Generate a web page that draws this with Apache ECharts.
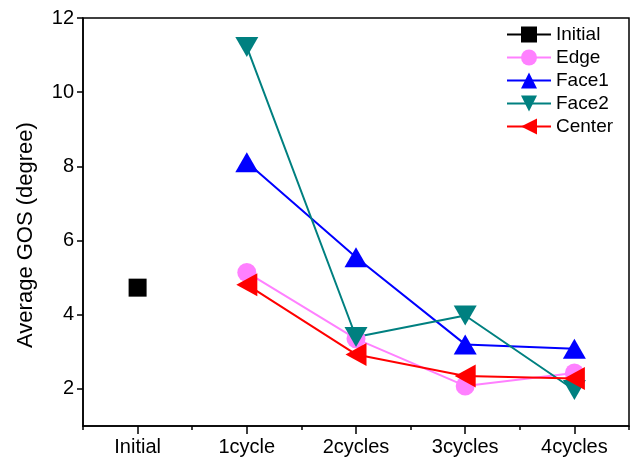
<!DOCTYPE html>
<html>
<head>
<meta charset="utf-8">
<script src="https://cdn.jsdelivr.net/npm/echarts@6/dist/echarts.min.js"></script>
<style>
html,body{margin:0;padding:0;background:#fff;}
#chart{width:638px;height:461px;}
</style>
</head>
<body>
<div id="chart"></div>
<script>
var categories = ['Initial', '1cycle', '2cycles', '3cycles', '4cycles'];
var yTicks = [2, 4, 6, 8, 10, 12];
var initialVals = [4.73, null, null, null, null];
var edgeVals = [null, 5.14, 3.35, 2.08, 2.43];
var face1Vals = [null, 8.11, 5.55, 3.2, 3.08];
var face2Vals = [null, 11.22, 3.4, 3.98, 1.97];
var centerVals = [null, 4.81, 2.93, 2.35, 2.28];

var font = 'Liberation Sans, Arial, sans-serif';
var chart = echarts.init(document.getElementById('chart'));

function lineSeries(name, data, color, symbol, size, rotate) {
  return {
    name: name, type: 'line', data: data,
    xAxisIndex: 0, yAxisIndex: 0,
    symbol: symbol, symbolSize: size, symbolRotate: rotate || 0,
    showSymbol: true, connectNulls: false,
    lineStyle: {color: color, width: 2},
    itemStyle: {color: color, opacity: 1},
    emphasis: {disabled: true},
    animation: false
  };
}

chart.setOption({
  animation: false,
  backgroundColor: '#fff',
  grid: {left: 83, top: 18, right: 9, bottom: 35, show: true, borderColor: '#000', borderWidth: 1.5, backgroundColor: 'transparent'},
  legend: {
    orient: 'vertical', left: 501, top: 20,
    itemWidth: 44, itemHeight: 20, itemGap: 4,
    textStyle: {fontFamily: font, fontSize: 19, color: '#000'},
    data: ['Initial', 'Edge', 'Face1', 'Face2', 'Center']
  },
  xAxis: [{
    type: 'category', data: categories, position: 'bottom', boundaryGap: true,
    axisLine: {show: true, lineStyle: {color: '#000', width: 1.5}},
    axisTick: {show: true, alignWithLabel: true, length: 8, inside: false, lineStyle: {color: '#000', width: 1.5}},
    axisLabel: {fontFamily: font, fontSize: 20, color: '#000', margin: 11},
    splitLine: {show: false}
  }, {
    type: 'category', data: categories, position: 'bottom', boundaryGap: true, offset: 0,
    axisLine: {show: false},
    axisTick: {show: true, length: 4, lineStyle: {color: '#000', width: 1.5}},
    axisLabel: {show: false},
    splitLine: {show: false}
  }],
  yAxis: {
    type: 'value', min: 1, max: 12,
    name: 'Average GOS (degree)', nameLocation: 'middle', nameGap: 46,
    nameTextStyle: {fontFamily: font, fontSize: 22, color: '#000', padding: [0, 26, 0, 0]},
    axisLine: {show: true, lineStyle: {color: '#000', width: 1.5}},
    axisTick: {show: true, length: 6, customValues: yTicks, lineStyle: {color: '#000', width: 1.5}},
    axisLabel: {fontFamily: font, fontSize: 20, color: '#000', margin: 9, customValues: yTicks},
    splitLine: {show: false}
  },
  series: [
    lineSeries('Initial', initialVals, '#000000', 'rect', 18),
    lineSeries('Edge', edgeVals, '#FF80FF', 'circle', 19),
    lineSeries('Face1', face1Vals, '#0000FF', 'triangle', [23, 20]),
    lineSeries('Face2', face2Vals, '#008080', 'triangle', [23, 20], 180),
    lineSeries('Center', centerVals, '#FF0000', 'triangle', [23, 21], 90)
  ]
});
</script>
</body>
</html>
